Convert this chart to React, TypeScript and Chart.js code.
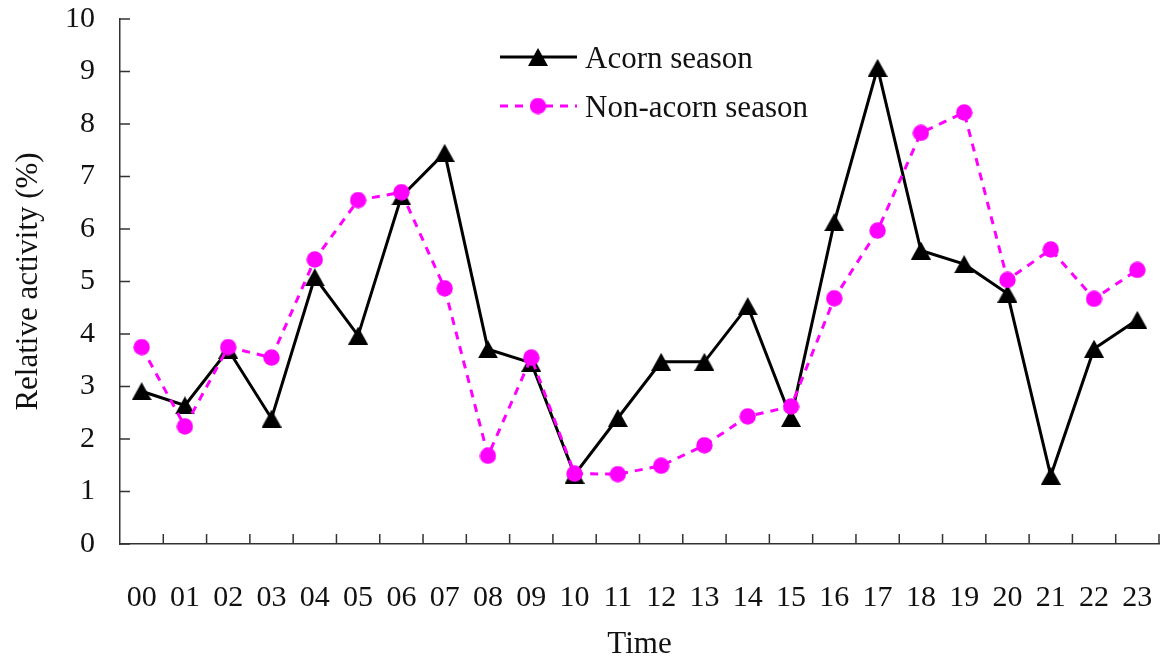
import React, { useEffect, useRef } from 'react';
import { Chart, registerables } from 'chart.js';
import { drawPoint } from 'chart.js/helpers';

Chart.register(...registerables);

const hours = ['00', '01', '02', '03', '04', '05', '06', '07', '08', '09', '10', '11', '12', '13', '14', '15', '16', '17', '18', '19', '20', '21', '22', '23'];
const acornSeason = [2.91, 2.64, 3.70, 2.39, 5.08, 3.97, 6.62, 7.45, 3.71, 3.45, 1.32, 2.40, 3.47, 3.47, 4.53, 2.40, 6.13, 9.07, 5.59, 5.33, 4.77, 1.30, 3.72, 4.27];
const nonAcornSeason = [3.75, 2.24, 3.75, 3.55, 5.42, 6.55, 6.70, 4.87, 1.68, 3.55, 1.34, 1.33, 1.49, 1.88, 2.43, 2.62, 4.68, 5.97, 7.83, 8.22, 5.03, 5.61, 4.67, 5.22];
const seriesNames = ['Acorn season', 'Non-acorn season'];
const yMin = 0;
const yMax = 10;
const yStep = 1;
const xTitle = 'Time';
const yTitle = 'Relative activity (%)';

const FONT_FAMILY = "'Liberation Serif', 'Times New Roman', serif";
const TEXT = '#111';
const AXIS = '#333';

function makeTriangle(w: number, h: number, color: string) {
  const c = document.createElement('canvas');
  c.width = w;
  c.height = h;
  const g = c.getContext('2d')!;
  g.fillStyle = color;
  g.beginPath();
  g.moveTo(w / 2, 0);
  g.lineTo(w, h);
  g.lineTo(0, h);
  g.closePath();
  g.fill();
  return c;
}

function makeCircle(d: number, color: string) {
  const c = document.createElement('canvas');
  c.width = d;
  c.height = d;
  const g = c.getContext('2d')!;
  g.fillStyle = color;
  g.beginPath();
  g.arc(d / 2, d / 2, d / 2 - 0.3, 0, Math.PI * 2);
  g.fill();
  return c;
}

const zeroPad = (s: any) => {
  s.paddingTop = 0;
  s.paddingBottom = 0;
  s.paddingLeft = 0;
  s.paddingRight = 0;
};

const decorPlugin = {
  id: 'decor',
  beforeDatasetsDraw(chart: any) {
    const ctx = chart.ctx;
    const x = chart.scales.x;
    const y = chart.scales.y;
    ctx.save();
    ctx.strokeStyle = AXIS;
    ctx.lineWidth = 1.5;
    ctx.beginPath();
    y.ticks.forEach((t: any) => {
      const py = y.getPixelForValue(t.value);
      ctx.moveTo(x.left, py);
      ctx.lineTo(x.left + 10, py);
    });
    for (let k = 1; k <= hours.length; k++) {
      const px = x.getPixelForValue(k - 0.5);
      ctx.moveTo(px, y.bottom);
      ctx.lineTo(px, y.bottom - 10);
    }
    ctx.stroke();
    ctx.restore();
  },
  afterDatasetsDraw(chart: any) {
    const ctx = chart.ctx;
    const rows = [57, 106];
    ctx.save();
    chart.data.datasets.forEach((ds: any, i: number) => {
      const yy = rows[i];
      ctx.save();
      ctx.strokeStyle = ds.borderColor;
      ctx.lineWidth = ds.borderWidth;
      ctx.setLineDash(ds.borderDash || []);
      ctx.beginPath();
      ctx.moveTo(500, yy);
      ctx.lineTo(577, yy);
      ctx.stroke();
      ctx.restore();
      drawPoint(ctx, { pointStyle: ds.pointStyle, radius: 8, borderWidth: 0, rotation: 0 } as any, 538, yy);
      ctx.fillStyle = TEXT;
      ctx.font = `31px ${FONT_FAMILY}`;
      ctx.textBaseline = 'middle';
      ctx.textAlign = 'left';
      ctx.fillText(ds.label, 585, yy + 3);
    });
    ctx.restore();
  },
};

export default function App() {
  const ref = useRef<HTMLCanvasElement | null>(null);
  useEffect(() => {
    if (!ref.current) return;
    const tri = makeTriangle(20, 18, '#000');
    const dot = makeCircle(17, '#FF00FF');
    const font = { family: FONT_FAMILY, size: 30 };
    const titleFont = { family: FONT_FAMILY, size: 31 };
    const chart = new Chart(ref.current, {
      type: 'line',
      data: {
        labels: hours,
        datasets: [
          {
            label: seriesNames[0],
            data: acornSeason,
            borderColor: '#000',
            borderWidth: 3,
            pointStyle: tri as any,
            pointRadius: 1,
            pointBackgroundColor: '#000',
            pointBorderWidth: 0,
            tension: 0,
            order: 1,
          },
          {
            label: seriesNames[1],
            data: nonAcornSeason,
            borderColor: '#FF00FF',
            borderWidth: 3,
            borderDash: [8, 7],
            pointStyle: dot as any,
            pointRadius: 1,
            pointBackgroundColor: '#FF00FF',
            pointBorderColor: '#FF00FF',
            pointBorderWidth: 0,
            tension: 0,
            order: 0,
          },
        ],
      },
      options: {
        responsive: false,
        animation: false,
        layout: { padding: { left: 8, right: 2, top: 19, bottom: 0 } },
        plugins: { legend: { display: false }, tooltip: { enabled: false } },
        scales: {
          x: {
            type: 'category',
            offset: true,
            grid: { display: false, drawTicks: false },
            border: { display: true, color: AXIS, width: 1.5 },
            ticks: { padding: 36, font, color: TEXT, maxRotation: 0, autoSkip: false },
            title: { display: true, text: xTitle, font: titleFont, color: TEXT, padding: { top: 0, bottom: 3 } },
            afterFit: (s: any) => { s.height = 666 - 544; zeroPad(s); },
          },
          y: {
            min: yMin,
            max: yMax,
            ticks: { stepSize: yStep, padding: 25, font, color: TEXT },
            grid: { display: false, drawTicks: false },
            border: { display: true, color: AXIS, width: 1.5 },
            title: { display: true, text: yTitle, font: titleFont, color: TEXT, padding: { top: 2, bottom: 0 } },
            afterFit: (s: any) => { s.width = 120 - 8; zeroPad(s); },
          },
        },
      },
      plugins: [decorPlugin],
    });
    return () => chart.destroy();
  }, []);
  return (
    <div style={{ position: 'absolute', left: 0, top: 0, width: 1163, height: 666, background: '#fff' }}>
      <canvas ref={ref} width={1163} height={666} style={{ display: 'block' }} />
    </div>
  );
}
